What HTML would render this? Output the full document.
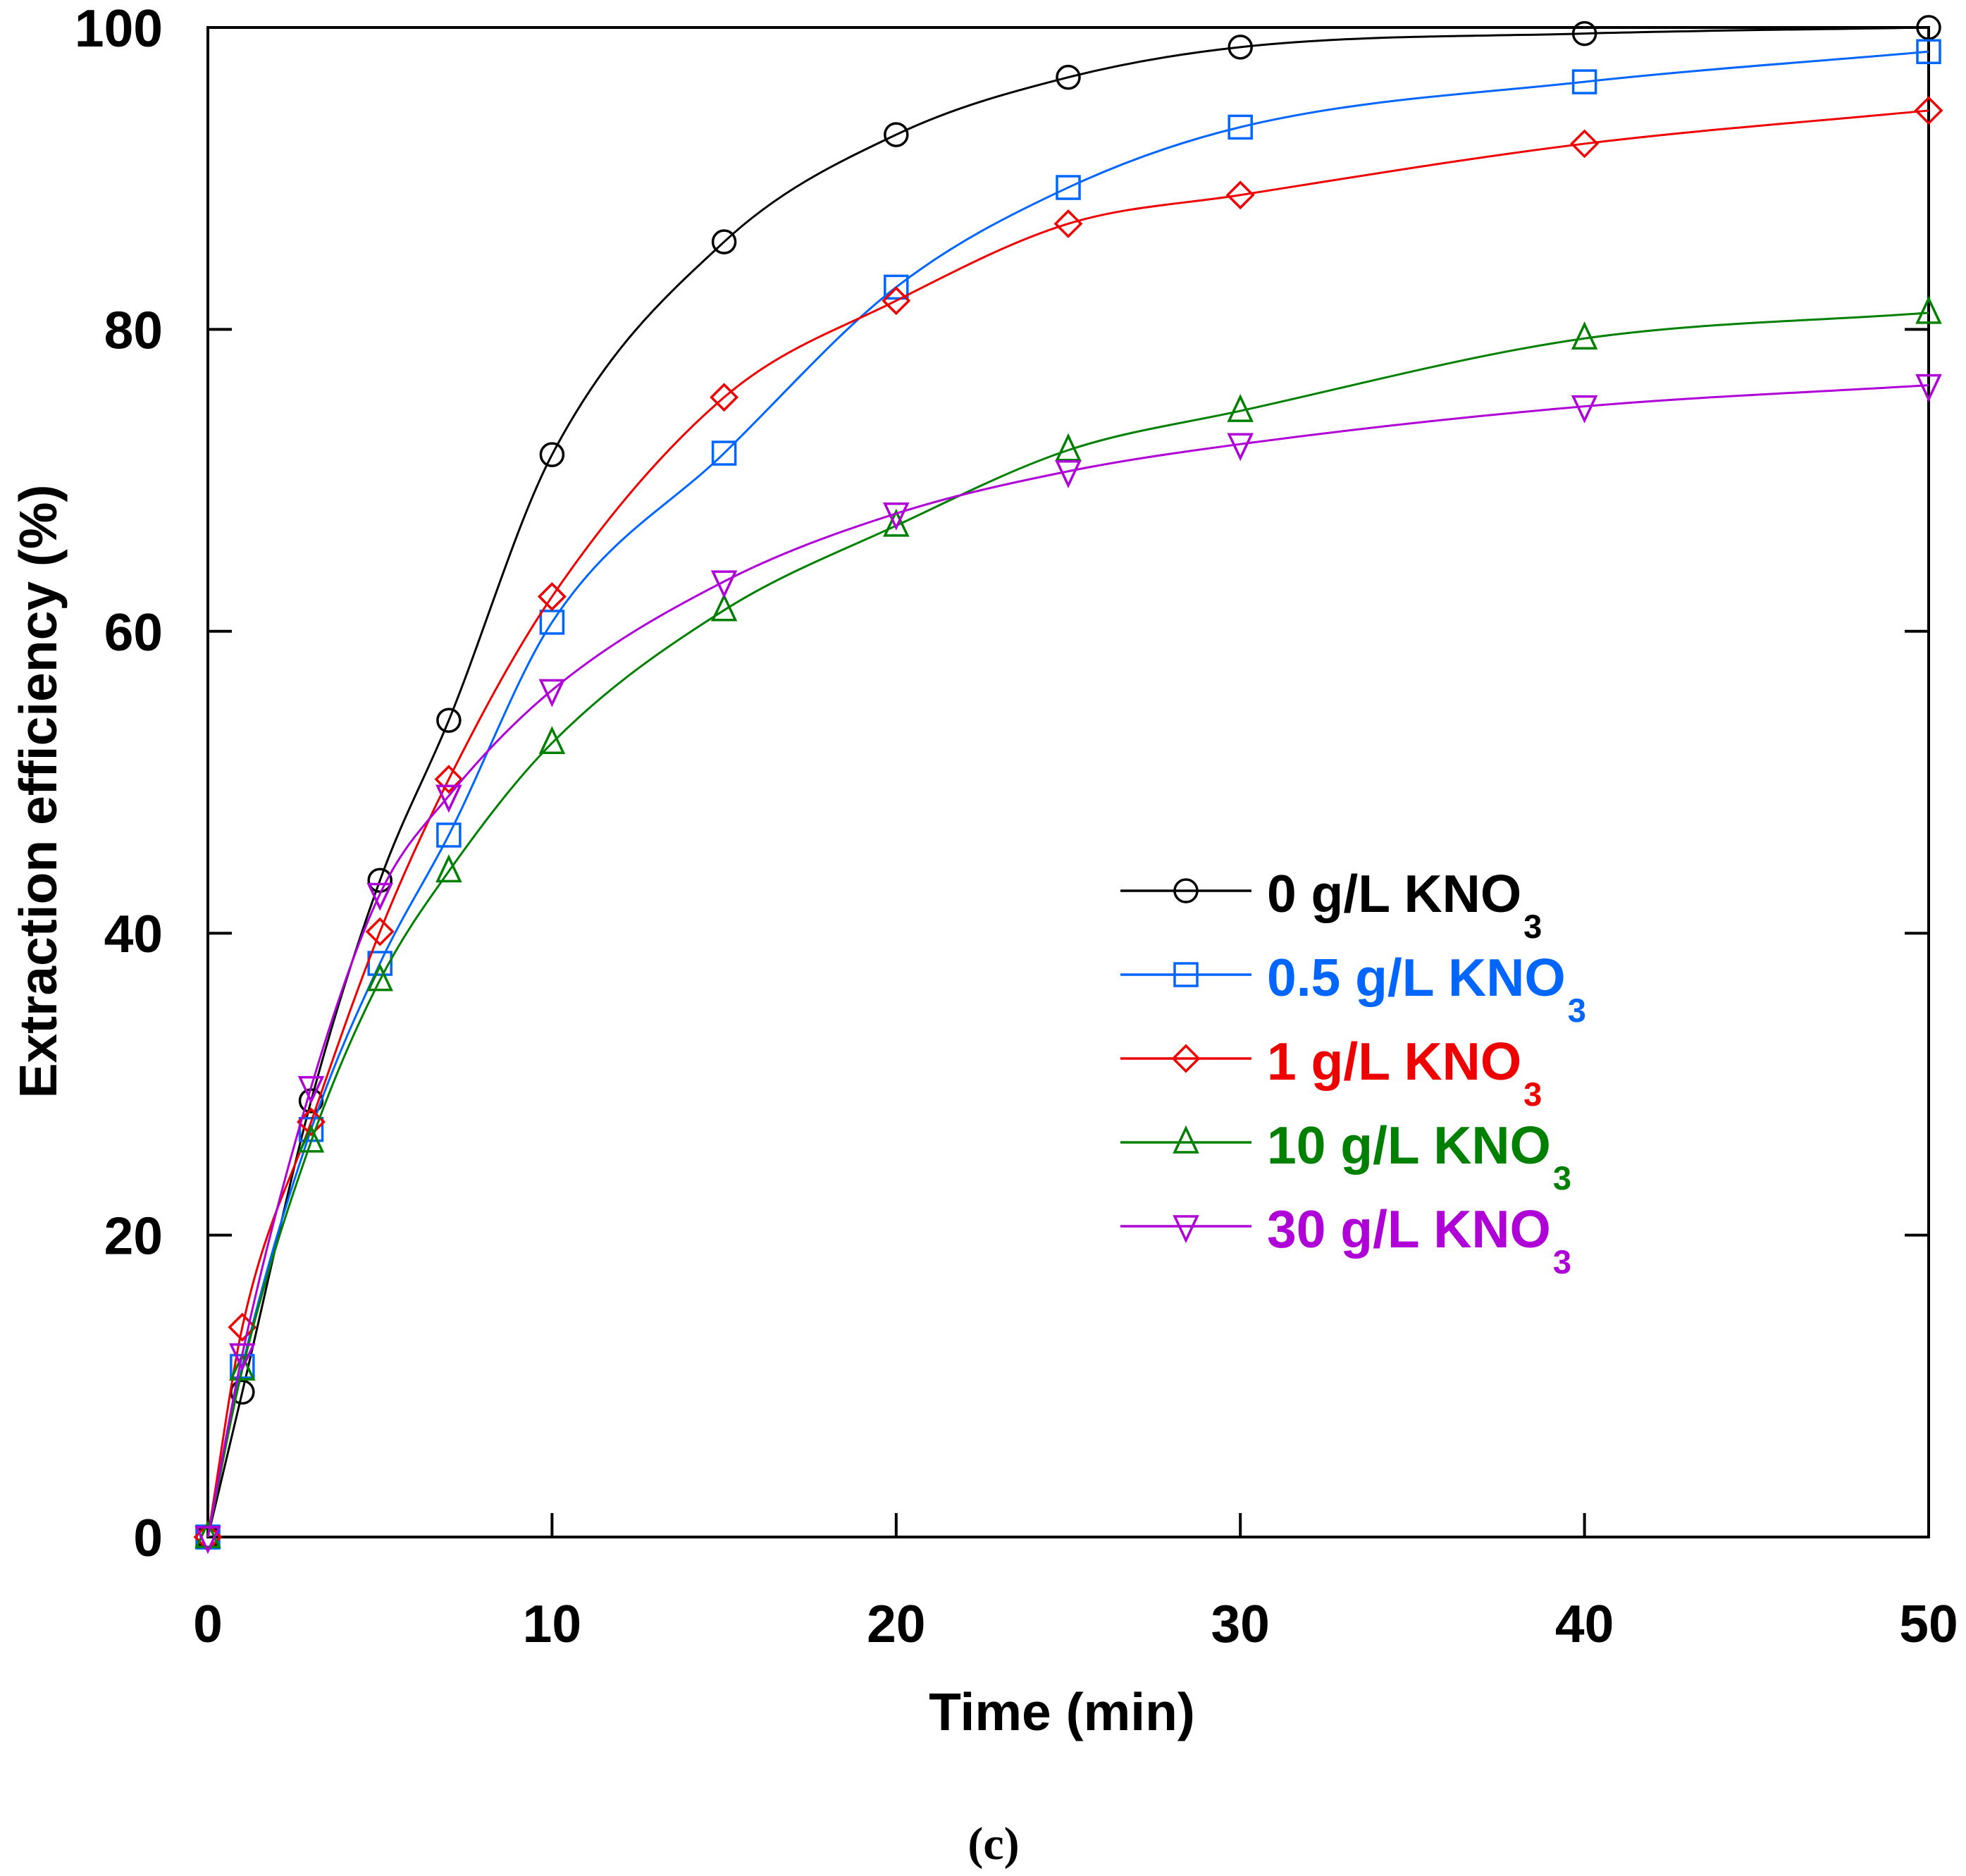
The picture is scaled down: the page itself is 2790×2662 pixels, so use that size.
<!DOCTYPE html>
<html><head><meta charset="utf-8"><style>
html,body{margin:0;padding:0;background:#fff}
svg{display:block}
text{font-family:"Liberation Sans",sans-serif;font-weight:bold}
</style></head><body>
<svg id="chart" width="2790" height="2662" viewBox="0 0 2790 2662" xmlns="http://www.w3.org/2000/svg">
<g id="axes"></g>
<g id="series"></g>
<g id="legend"></g>
<text x="1507" y="2455" font-size="75" text-anchor="middle">Time (min)</text>
<text x="0" y="0" font-size="75" text-anchor="middle" transform="translate(80,1123) rotate(-90)">Extraction efficiency (%)</text>
<text x="1410" y="2638" font-size="66" text-anchor="middle" style="font-family:'Liberation Serif',serif;font-weight:bold">(c)</text>
</svg>
<script>
const times = [0,1,3,5,7,10,15,20,25,30,40,50];
const s0 = [0,9.6,28.9,43.5,54.1,71.7,85.8,92.9,96.7,98.7,99.6,100];
const s05 = [0,11.3,27.0,38.0,46.5,60.6,71.8,82.8,89.4,93.4,96.4,98.4];
const s1 = [0,13.9,27.5,40.1,50.2,62.3,75.5,81.9,87.0,88.9,92.3,94.5];
const s10 = [0,11.1,26.2,36.9,44.1,52.6,61.4,67.0,72.0,74.6,79.4,81.1];
const s30 = [0,12.1,29.8,42.6,49.1,56.1,63.3,67.8,70.6,72.4,74.9,76.3];
const seriesLabels = ["0 g/L KNO","0.5 g/L KNO","1 g/L KNO","10 g/L KNO","30 g/L KNO"];
const xTicks = [0,10,20,30,40,50];
const yTicks = [0,20,40,60,80,100];

const L=295,R=2737,T=39,B=2181;
const X=v=>L+(v-0)/50*(R-L);
const Y=v=>B-(v-0)/100*(B-T);
const NS="http://www.w3.org/2000/svg";
function mk(tag,parent,attrs){const e=document.createElementNS(NS,tag);for(const k in attrs)e.setAttribute(k,attrs[k]);parent.appendChild(e);return e;}

const axes=document.getElementById('axes');
const frame=mk('rect',axes,{x:L,y:T,width:R-L,height:B-T,fill:'none',stroke:'#000','stroke-width':4});


xTicks.forEach(v=>{
  const t=mk('line',axes,{x1:X(v),x2:X(v),y1:B,y2:B-34,stroke:'#000','stroke-width':4});
  
  
  const lb=mk('text',axes,{x:X(v),y:2330,'font-size':75,'text-anchor':'middle'});
  lb.textContent=v;
  
  
});
yTicks.forEach(v=>{
  const t=mk('line',axes,{x1:L,x2:L+34,y1:Y(v),y2:Y(v),stroke:'#000','stroke-width':4});
  
  
  const t2=mk('line',axes,{x1:R,x2:R-34,y1:Y(v),y2:Y(v),stroke:'#000','stroke-width':4});
  
  
  const lb=mk('text',axes,{x:231,y:Y(v)+27,'font-size':75,'text-anchor':'end'});
  lb.textContent=v;
  
  
});

function pathFor(pts){
  const n=pts.length, m=[];
  for(let i=0;i<n;i++){
    let s=[];
    if(i>0) s.push((pts[i][1]-pts[i-1][1])/(pts[i][0]-pts[i-1][0]));
    if(i<n-1) s.push((pts[i+1][1]-pts[i][1])/(pts[i+1][0]-pts[i][0]));
    m.push(s.reduce((a,b)=>a+b,0)/s.length);
  }
  let d=`M${pts[0][0]},${pts[0][1]}`;
  for(let i=0;i<n-1;i++){
    const dx=(pts[i+1][0]-pts[i][0])/3;
    d+=` C${pts[i][0]+dx},${pts[i][1]+m[i]*dx} ${pts[i+1][0]-dx},${pts[i+1][1]-m[i+1]*dx} ${pts[i+1][0]},${pts[i+1][1]}`;
  }
  return d;
}
function marker(g,type,x,y,color){
  const r=16;let e;
  if(type==='circle') e=mk('circle',g,{cx:x,cy:y,r:r});
  else if(type==='square') e=mk('rect',g,{x:x-r,y:y-r,width:2*r,height:2*r});
  else if(type==='diamond') e=mk('polygon',g,{points:`${x},${y-r-2} ${x+r+2},${y} ${x},${y+r+2} ${x-r-2},${y}`});
  else if(type==='up') e=mk('polygon',g,{points:`${x},${y-r-4} ${x+r},${y+r-2} ${x-r},${y+r-2}`});
  else e=mk('polygon',g,{points:`${x},${y+r+4} ${x+r},${y-r+2} ${x-r},${y-r+2}`});
  e.setAttribute('fill','none');e.setAttribute('stroke',color);e.setAttribute('stroke-width',3.5);
  return e;
}
const all=[s0,s05,s1,s10,s30];
const colors=['#000000','#0066ff','#ee0000','#008000','#b000d8'];
const types=['circle','square','diamond','up','down'];
const names=['series-0gL','series-0-5gL','series-1gL','series-10gL','series-30gL'];
const sg=document.getElementById('series');
all.forEach((vals,k)=>{
  const g=mk('g',sg,{});
  
  
  const pts=times.map((t,i)=>[X(t),Y(vals[i])]);
  const p=mk('path',g,{d:pathFor(pts),fill:'none',stroke:colors[k],'stroke-width':3});
  
  
  pts.forEach(pt=>{
    const mm=marker(g,types[k],pt[0],pt[1],colors[k]);
    
    
  });
});
const lg=document.getElementById('legend');
seriesLabels.forEach((lab,k)=>{
  const y=1264+k*119;
  const g=mk('g',lg,{});
  
  
  mk('line',g,{x1:1590,x2:1776,y1:y,y2:y,stroke:colors[k],'stroke-width':3.5});
  marker(g,types[k],1683,y,colors[k]);
  const t=mk('text',g,{x:1798,y:y+30,'font-size':75,fill:colors[k]});
  t.textContent=lab;
  const w=t.getComputedTextLength();
  const sub=mk('text',g,{x:1798+w+3,y:y+67,'font-size':47,fill:colors[k]});
  sub.textContent='3';
});
</script>
</body></html>
